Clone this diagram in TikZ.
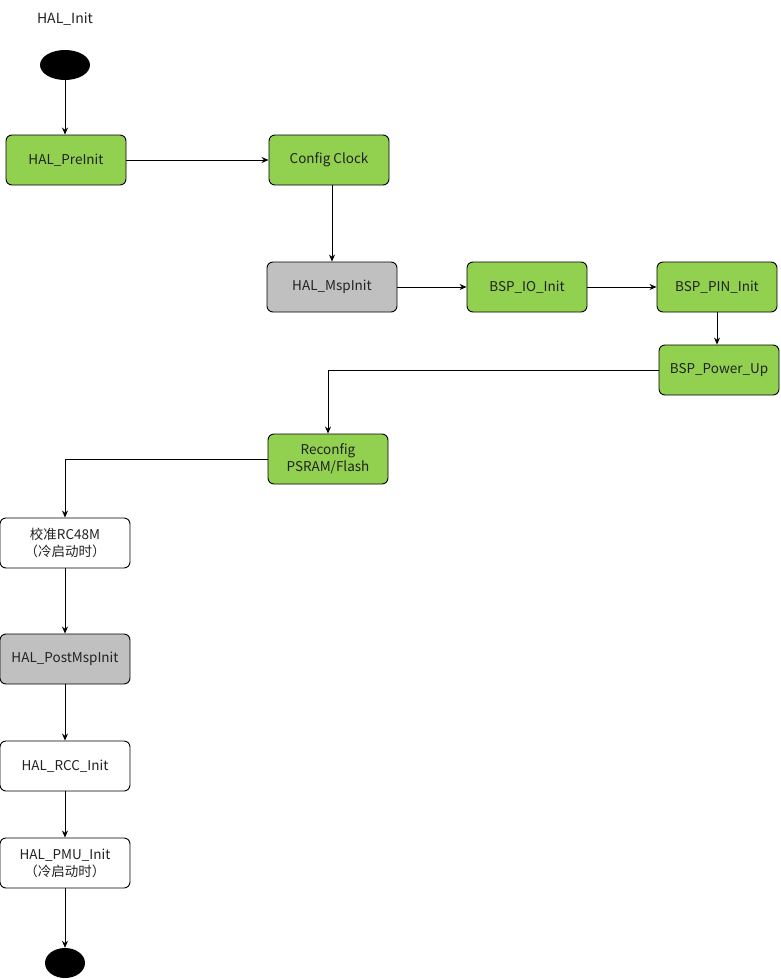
\documentclass[tikz,border=0pt]{standalone}
\usepackage{fontspec}
\setmainfont{Noto Sans CJK SC}
\usepackage{xcolor}
\usetikzlibrary{arrows.meta, positioning, shapes}

\definecolor{stepgreen}{HTML}{92D050}
\definecolor{stepgray}{HTML}{C0C0C0}
\definecolor{textgray}{HTML}{222222}

\begin{document}
\begin{tikzpicture}[x=1pt, y=-1pt, font=\fontsize{13.5}{17}\selectfont, text=textgray]
		\tikzstyle{state} = [draw=black, line width=0.9pt, rectangle, rounded corners=6pt, minimum width=120pt, minimum height=50pt, align=center, inner sep=0pt]
		\tikzstyle{green} = [state, fill=stepgreen]
		\tikzstyle{gray} = [state, fill=stepgray, minimum width=130pt]
		\tikzstyle{white} = [state, fill=white, minimum width=130pt]
		\tikzstyle{dot} = [fill=black, ellipse, inner sep=0pt]
		\tikzstyle{arrow} = [line width=0.9pt, -{Stealth[length=7pt, width=6pt]}]

		\useasboundingbox (0,0) rectangle (780,979);

		\node[font=\fontsize{14}{17}\selectfont] at (65, 19) (title) {HAL\_Init};
		\node[dot, minimum width=50pt, minimum height=30pt] at (65, 65) (start) {};

		\node[green]	at (66, 160)	(preinit)	{HAL\_PreInit};
		\node[green]	at (329, 160)	(clock)	{Config Clock};

		\node[gray]	at (332, 287)	(mspinit)	{HAL\_MspInit};
		\node[green]	at (527, 287)	(ioinit)	{BSP\_IO\_Init};
		\node[green]	at (717, 287)	(pininit)	{BSP\_PIN\_Init};
		\node[green]	at (719, 370)	(powerup)	{BSP\_Power\_Up};

		\node[green]	at (328, 459)	(reconfig)	{Reconfig\\PSRAM/Flash};

		\node[white]	at (65, 543)	(rc48m)	{校准RC48M\\（冷启动时）};
		\node[gray]	at (65, 659)	(postmsp)	{HAL\_PostMspInit};
		\node[white]	at (65, 766)	(rccinit)	{HAL\_RCC\_Init};
		\node[white]	at (65, 863)	(pmuinit)	{HAL\_PMU\_Init\\（冷启动时）};
		\node[dot, minimum width=40pt, minimum height=30pt] at (65, 963) (stop) {};

		\draw [arrow] (start) -- (start |- preinit.north);
		\draw [arrow] (preinit) -- (clock);
		\draw [arrow] (clock.south -| mspinit) -- (mspinit);
		\draw [arrow] (mspinit) -- (ioinit);
		\draw [arrow] (ioinit) -- (pininit);
		\draw [arrow] (pininit) -- (pininit |- powerup.north);
		\draw [arrow] (powerup) -| (reconfig);
		\draw [arrow] (reconfig) -| (rc48m);
		\draw [arrow] (rc48m) -- (postmsp);
		\draw [arrow] (postmsp) -- (rccinit);
		\draw [arrow] (rccinit) -- (pmuinit);
		\draw [arrow] (pmuinit) -- (stop);
	\end{tikzpicture}
\end{document}
